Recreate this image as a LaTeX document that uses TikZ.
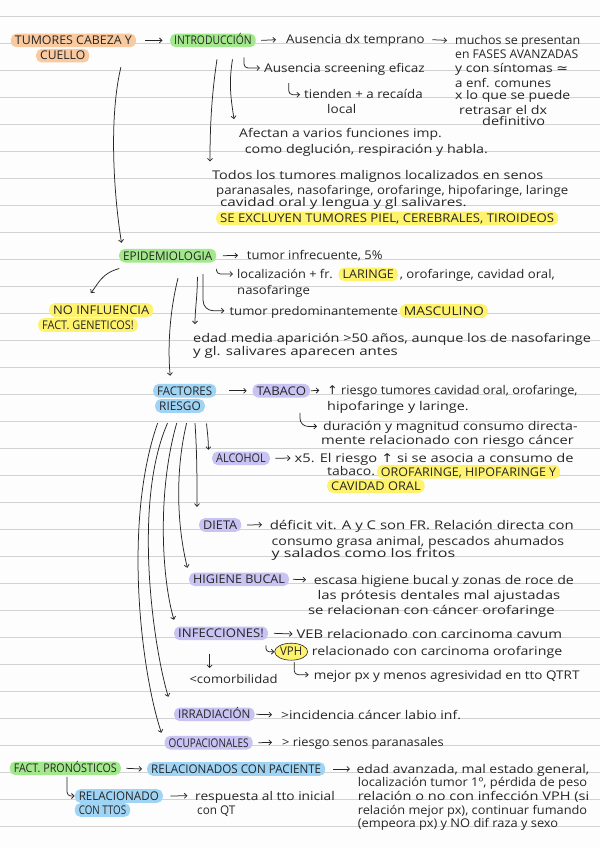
\documentclass[tikz,border=0pt]{standalone}
\usepackage{fontspec}
\setmainfont{Open Sans}
\newfontfamily\sym{DejaVu Sans}
\usepackage{graphicx}
\usetikzlibrary{arrows.meta,calc,shapes.geometric}
\definecolor{peach}{RGB}{249,201,160}
\definecolor{hlgreen}{RGB}{163,232,140}
\definecolor{hlyellow}{RGB}{255,243,110}
\definecolor{hlblue}{RGB}{160,212,245}
\definecolor{hlpurple}{RGB}{201,195,244}
\definecolor{ink}{RGB}{38,38,38}
\definecolor{rulegray}{RGB}{210,210,210}
\definecolor{paper}{RGB}{253,253,253}
\newcommand\tw[2]{\resizebox{#1pt}{\height}{#2}}
\begin{document}
\begin{tikzpicture}[x=1pt,y=-1pt,
 every node/.style={font=\fontsize{12}{14}\selectfont, text=ink},
 txt/.style={anchor=base west, inner sep=0pt, text height=8.6pt, text depth=0pt},
 hl/.style={anchor=base west, inner xsep=4pt, inner ysep=2.5pt, text height=8.6pt, text depth=0pt, rounded corners=5.5pt},
 ar/.style={draw=ink, line width=0.75pt, -{Straight Barb[length=2.6pt,width=5pt]}},
 hook/.style={ar, rounded corners=4pt}]
\useasboundingbox (0,0) rectangle (600,848);
\fill[paper] (0,0) rectangle (600,848);
\foreach \k in {0,...,30} \draw[rulegray, line width=1pt] (0,{16.7+27*\k}) -- (600,{16.7+27*\k});

% ---------- Introduccion
\node[hl, fill=peach] (tum1) at (10.7,44.7) {\tw{117}{TUMORES CABEZA Y}};
\node[hl, fill=peach] (tum2) at (36,60) {\tw{45}{CUELLO}};
\node[hl, fill=hlgreen] (intro) at (170,44.7) {\tw{77.5}{INTRODUCCIÓN}};
\node[txt] (aus) at (286,44) {\tw{138.5}{Ausencia dx temprano}};
\node[txt] (m1) at (455,44.7) {\tw{125}{muchos se presentan}};
\node[txt] (m2) at (455,58.3) {\tw{123}{en FASES AVANZADAS}};
\node[txt] (m3) at (455,72.3) {\tw{113}{y con síntomas {\sym ≃}}};
\node[txt] (m4) at (455,87.3) {\tw{96}{a enf. comunes}};
\node[txt] (m5) at (455,100) {\tw{115}{x lo que se puede}};
\node[txt] (m6) at (459,114) {\tw{88}{retrasar el dx}};
\node[txt] (m7) at (482,125.7) {\tw{63}{definitivo}};
\node[txt] (scr) at (264,72.3) {\tw{160.5}{Ausencia screening eficaz}};
\node[txt] (tien) at (304,99) {\tw{118.5}{tienden + a recaída}};
\node[txt] (loc) at (327,113.3) {\tw{29}{local}};
\node[txt] (af1) at (239,137.3) {\tw{202.7}{Afectan a varios funciones imp.}};
\node[txt] (af2) at (244.7,153.3) {\tw{243}{como deglución, respiración y habla.}};
\node[txt] (to1) at (212,179) {\tw{331}{Todos los tumores malignos localizados en senos}};
\node[txt] (to2) at (216,194.7) {\tw{352}{paranasales, nasofaringe, orofaringe, hipofaringe, laringe}};
\node[txt] (to3) at (220,206.7) {\tw{246.5}{cavidad oral y lengua y gl salivares.}};
\node[hl, fill=hlyellow] (excl) at (216,222.6) {\tw{334}{SE EXCLUYEN TUMORES PIEL, CEREBRALES, TIROIDEOS}};

% ---------- Epidemiologia
\node[hl, fill=hlgreen] (epi) at (119,260) {\tw{89}{EPIDEMIOLOGIA}};
\node[txt] (tinf) at (246.7,259.7) {\tw{135.7}{tumor infrecuente, 5\%}};
\node[txt] (loc2a) at (237,278.3) {\tw{95.7}{localización + fr.}};
\node[hl, fill=hlyellow] (lar) at (338.4,278.6) {\tw{51.3}{LARINGE}};
\node[txt] (loc2b) at (399.6,278.3) {\tw{155}{, orofaringe, cavidad oral,}};
\node[txt] (naso) at (237,294) {\tw{72.7}{nasofaringe}};
\node[txt] (masca) at (229.4,315) {\tw{168.3}{tumor predominantemente}};
\node[hl, fill=hlyellow] (masc) at (399.6,315.3) {\tw{80}{MASCULINO}};
\node[txt] (edad1) at (193,342.3) {\tw{397.8}{edad media aparición >50 años, aunque los de nasofaringe}};
\node[txt] (edad2) at (193,355.7) {\tw{204.7}{y gl. salivares aparecen antes}};
\node[hl, fill=hlyellow] (noinf) at (49,314.3) {\tw{96}{NO INFLUENCIA}};
\node[hl, fill=hlyellow] (gen) at (38,329.3) {\tw{91.7}{FACT. GENETICOS!}};

% ---------- Factores de riesgo
\node[hl, fill=hlblue] (fac1) at (153,395) {\tw{55}{FACTORES}};
\node[hl, fill=hlblue] (fac2) at (155,410.3) {\tw{41.6}{RIESGO}};
\node[hl, fill=hlpurple] (tab) at (252.4,395) {\tw{49.4}{TABACO}};
\node[txt] (tab1) at (327,394.7) {\tw{250.4}{{\sym ↑} riesgo tumores cavidad oral, orofaringe,}};
\node[txt] (tab2) at (327,410) {\tw{141.5}{hipofaringe y laringe.}};
\node[txt] (tab3) at (323,430.7) {\tw{254.4}{duración y magnitud consumo directa-}};
\node[txt] (tab4) at (321,444) {\tw{252.6}{mente relacionado con riesgo cáncer}};
\node[hl, fill=hlpurple] (alc) at (212,462.6) {\tw{49.6}{ALCOHOL}};
\node[txt] (alc1) at (294.5,462.3) {\tw{279}{x5. El riesgo {\sym ↑} si se asocia a consumo de}};
\node[txt] (alc2) at (327,475.7) {\tw{47.8}{tabaco.}};
\node[hl, fill=hlyellow] (oro) at (376.7,476) {\tw{175.3}{OROFARINGE, HIPOFARINGE Y}};
\node[hl, fill=hlyellow] (cav) at (327,490.3) {\tw{89.5}{CAVIDAD ORAL}};
\node[hl, fill=hlpurple] (die) at (199,529.3) {\tw{34}{DIETA}};
\node[txt] (die1) at (269.6,529) {\tw{304}{déficit vit. A y C son FR. Relación directa con}};
\node[txt] (die2) at (271.5,545.7) {\tw{292.5}{consumo grasa animal, pescados ahumados}};
\node[txt] (die3) at (271.5,557.3) {\tw{183.5}{y salados como los fritos}};
\node[hl, fill=hlpurple] (hig) at (189,583.6) {\tw{91.7}{HIGIENE BUCAL}};
\node[txt] (hig1) at (313.6,584) {\tw{260}{escasa higiene bucal y zonas de roce de}};
\node[txt] (hig2) at (317.4,599) {\tw{242.6}{las prótesis dentales mal ajustadas}};
\node[txt] (hig3) at (307.8,614) {\tw{246.7}{se relacionan con cáncer orofaringe}};
\node[hl, fill=hlpurple] (inf) at (174,637.6) {\tw{85.7}{INFECCIONES!}};
\node[txt] (inf1) at (296.4,638.3) {\tw{265.6}{VEB relacionado con carcinoma cavum}};
\node[ellipse, draw=ink, line width=0.6pt, fill=hlyellow, minimum width=33pt, minimum height=17pt, inner sep=0pt] (vph) at (291.2,651.7) {\tw{22}{VPH}};
\node[txt] (vph1) at (311.7,655.7) {\tw{250.3}{relacionado con carcinoma orofaringe}};
\node[txt] (vph2) at (313.6,679) {\tw{265.7}{mejor px y menos agresividad en tto QTRT}};
\node[txt] (com) at (189.3,683) {\tw{88}{<comorbilidad}};
\node[hl, fill=hlpurple] (irr) at (174,718.6) {\tw{72.3}{IRRADIACIÓN}};
\node[txt] (irr1) at (281,719) {\tw{179.8}{>incidencia cáncer labio inf.}};
\node[hl, fill=hlpurple] (ocu) at (164.4,747) {\tw{80}{OCUPACIONALES}};
\node[txt] (ocu1) at (282,746.7) {\tw{161.6}{> riesgo senos paranasales}};

% ---------- Pronosticos
\node[hl, fill=hlgreen] (pro) at (9.6,772.6) {\tw{103}{FACT. PRONÓSTICOS}};
\node[hl, fill=hlblue] (rpac) at (147,773.3) {\tw{170}{RELACIONADOS CON PACIENTE}};
\node[txt] (p1) at (356.4,773.3) {\tw{232.6}{edad avanzada, mal estado general,}};
\node[txt] (p2) at (357.6,786.7) {\tw{229.4}{localización tumor 1º, pérdida de peso}};
\node[txt] (p3) at (357.6,800) {\tw{231.4}{relación o no con infección VPH (si}};
\node[txt] (p4) at (357.6,814) {\tw{229.4}{relación mejor px), continuar fumando}};
\node[txt] (p5) at (357.6,827.3) {\tw{200.4}{(empeora px) y NO dif raza y sexo}};
\node[hl, fill=hlblue] (rtt1) at (74.6,800.3) {\tw{80}{RELACIONADO}};
\node[hl, fill=hlblue] (rtt2) at (74.6,814.3) {\tw{47.4}{CON TTOS}};
\node[txt] (rt1) at (195,800) {\tw{139.6}{respuesta al tto inicial}};
\node[txt] (rt2) at (197,814) {\tw{38.2}{con QT}};

% ---------- connectors
\draw[ar] ([xshift=8.8pt]tum1.east) -- ([xshift=-7.5pt]intro.west);
\draw[ar] ([xshift=5.5pt]intro.east) -- ([xshift=-10pt]aus.west);
\draw[ar] ([xshift=7.5pt]aus.east) -- ([xshift=-8pt]m1.west);
\coordinate (h1) at ($(intro.south west)+(74,10)$);
\draw[hook] (h1) |- ([xshift=-4pt]scr.west);
\coordinate (h2) at ($(scr.south west)+(24.7,10.7)$);
\draw[hook] (h2) |- ([xshift=-4pt]tien.west);
\draw[ar] ($(intro.south west)+(62.5,12)$) .. controls +(-4,25) and +(-3,-20) .. ($(af1.north west)+(-5,-9.4)$);
\draw[ar] ($(intro.south west)+(47,12)$) .. controls +(-6,40) and +(0,-30) .. ($(to1.north west)+(-2,-8.7)$);
\draw[ar] ($(tum1.south east)+(-15.2,19.8)$) .. controls +(-12,50) and +(-8,-50) .. ($(epi.north west)+(2.5,-5.9)$);

\draw[ar] ([xshift=6.5pt]epi.east) -- ([xshift=-8.7pt]tinf.west);
\draw[hook] ($(epi.south east)+(0,8.5)$) |- ([xshift=-4pt]loc2a.west);
\draw[ar, rounded corners=10pt] ($(epi.south east)+(-13.3,11.5)$) |- ([xshift=-5pt]masca.west);
\draw[ar] ($(epi.south east)+(-19,14.2)$) .. controls +(0,20) and +(0,-15) .. ($(edad1.north west)+(2,-9.4)$);
\draw[ar] ($(epi.south west)+(0.3,5.8)$) .. controls +(-18,5) and +(8,-10) .. ($(noinf.north)+(-10.4,-9.9)$);
\draw[ar] ($(epi.south west)+(59,15.5)$) .. controls +(-10,40) and +(-2,-20) .. ($(fac1.north)+(-14.5,-7.9)$);

\draw[ar] ([xshift=12.7pt]fac1.east) -- ([xshift=-5.7pt]tab.west);
\draw[ar] ([xshift=1pt]tab.east) -- ([xshift=-7.7pt]tab1.west);
\draw[ar, rounded corners=8pt] ($(tab.south west)+(47.6,15.2)$) |- ([xshift=-6pt]tab3.west);
\coordinate (f0) at ($(fac2.south west)+(51.5,10.5)$);
\coordinate (f1) at ($(fac2.south west)+(40,10.2)$);
\coordinate (f2) at ($(fac2.south west)+(31.6,10.2)$);
\coordinate (f3) at ($(fac2.south west)+(21.7,10.2)$);
\coordinate (f4) at ($(fac2.south west)+(12.5,10.2)$);
\coordinate (f5) at ($(fac2.south west)+(2.6,10.2)$);
\draw[ar] (f0) .. controls +(1,10) and +(0,-10) .. ($(alc.north west)+(-3.6,-1.5)$);
\draw[ar] (f1) .. controls +(2,30) and +(0,-30) .. ($(die.north west)+(-2,-11.2)$);
\draw[ar] (f2) .. controls +(-12,50) and +(-10,-40) .. ($(hig.north west)+(-1.6,-4.5)$);
\draw[ar] (f3) .. controls +(-20,70) and +(-12,-40) .. ($(inf.north west)+(0,-6.5)$);
\draw[ar] (f4) .. controls +(-35,80) and +(-15,-50) .. ($(irr.north west)+(-5.7,-10.5)$);
\draw[ar] (f5) .. controls +(-35,100) and +(-20,-60) .. ($(ocu.north west)+(-3,-2.9)$);
\draw[ar] ([xshift=5.4pt]alc.east) -- ([xshift=-4pt]alc1.west);
\draw[ar] ([xshift=5.7pt]die.east) -- ([xshift=-7.6pt]die1.west);
\draw[ar] ([xshift=3.8pt]hig.east) -- ([xshift=-7.6pt]hig1.west);
\draw[ar] ([xshift=5.7pt]inf.east) -- ([xshift=-3.9pt]inf1.west);
\draw[ar, rounded corners=3pt] ($(inf.south east)+(-2,5)$) |- (vph.west);
\draw[hook] ($(vph.south)+(3,1.5)$) |- ([xshift=-5pt]vph2.west);
\draw[ar] ($(inf.south west)+(35.6,13.2)$) -- ($(com.north west)+(20.3,-6.1)$);
\draw[ar] ([xshift=1.7pt]irr.east) -- ([xshift=-9pt]irr1.west);
\draw[ar] ([xshift=5.6pt]ocu.east) -- ([xshift=-10pt]ocu1.west);

\draw[ar] ([xshift=5.4pt]pro.east) -- ([xshift=-5pt]rpac.west);
\draw[ar] ([xshift=7.7pt]rpac.east) -- ([xshift=-6.4pt]p1.west);
\draw[hook] ($(pro.south west)+(57.4,1.6)$) |- (rtt1.west);
\draw[ar] ([xshift=7.4pt]rtt1.east) -- ([xshift=-7.6pt]rt1.west);
\end{tikzpicture}
\end{document}
